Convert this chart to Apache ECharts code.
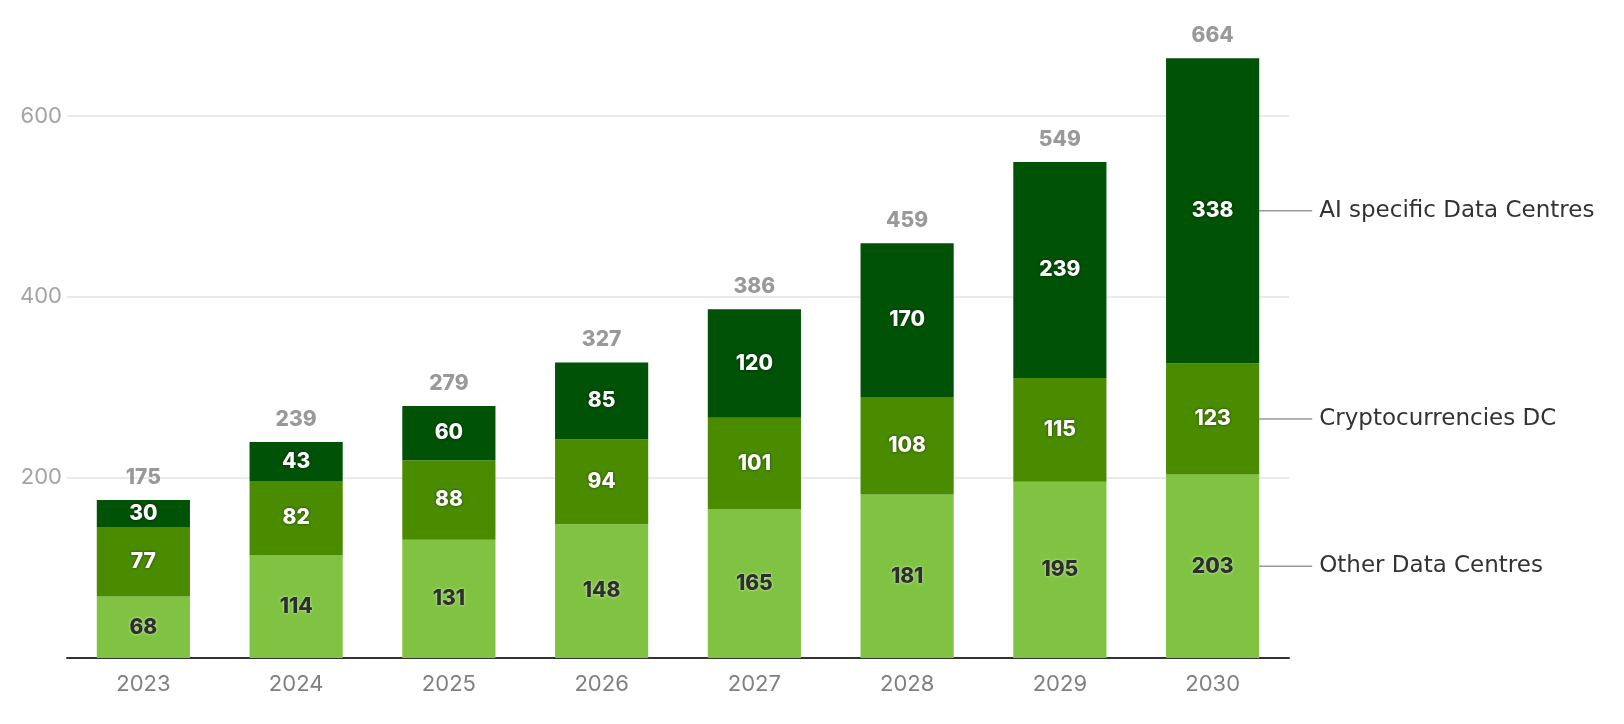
<!DOCTYPE html>
<html>
<head>
<meta charset="utf-8">
<script src="https://cdn.jsdelivr.net/npm/echarts@6/dist/echarts.min.js"></script>
<style>
html,body{margin:0;padding:0;background:#fff;}
#chart{width:1624px;height:724px;}
</style>
</head>
<body>
<div id="chart"></div>
<script>
const categories = ['2023','2024','2025','2026','2027','2028','2029','2030'];
const otherDC = [68,114,131,148,165,181,195,203];
const cryptoDC = [77,82,88,94,101,108,115,123];
const aiDC = [30,43,60,85,120,170,239,338];
const totals = [175,239,279,327,386,459,549,664];
const seriesNames = ['Other Data Centres','Cryptocurrencies DC','AI specific Data Centres'];
const colors = ['#80c342','#4a8b00','#005207'];

const FONT = 'Inter, "Open Sans", sans-serif';
const LEGEND_FONT = '"DejaVu Sans", Inter, sans-serif';
const last = categories.length - 1;
const endLabelData = [
  [last, otherDC[last] / 2],
  [last, otherDC[last] + cryptoDC[last] / 2],
  [last, otherDC[last] + cryptoDC[last] + aiDC[last] / 2]
];

function innerLabel(dark) {
  return {
    show: true,
    position: 'inside',
    fontFamily: FONT,
    fontSize: 21,
    fontWeight: 800,
    color: dark ? '#2e2e2e' : '#ffffff',
    textShadowColor: dark ? 'rgba(255,255,255,0.7)' : 'rgba(0,0,0,0.55)',
    textShadowBlur: 3
  };
}

const chart = echarts.init(document.getElementById('chart'));
chart.setOption({
  animation: false,
  backgroundColor: '#ffffff',
  grid: { left: 67, right: 335, top: 116, bottom: 66, containLabel: false },
  xAxis: {
    type: 'category',
    data: categories,
    axisLine: { lineStyle: { color: '#333333', width: 2 } },
    axisTick: { show: false },
    axisLabel: { color: '#808080', fontFamily: FONT, fontSize: 22, margin: 15 }
  },
  yAxis: {
    type: 'value',
    min: 0,
    max: 600,
    interval: 200,
    axisLine: { show: false },
    axisTick: { show: false },
    splitLine: { lineStyle: { color: '#e3e3e3', width: 1.5 } },
    axisLabel: {
      color: '#a3a3a3', fontFamily: FONT, fontSize: 22, margin: 5,
      formatter: v => (v === 0 ? '' : String(v))
    }
  },
  series: [
    {
      name: seriesNames[0], type: 'bar', stack: 'dc', barWidth: '61%', clip: false,
      itemStyle: { color: colors[0] }, label: innerLabel(true), data: otherDC
    },
    {
      name: seriesNames[1], type: 'bar', stack: 'dc', barWidth: '61%', clip: false,
      itemStyle: { color: colors[1] }, label: innerLabel(false), data: cryptoDC
    },
    {
      name: seriesNames[2], type: 'bar', stack: 'dc', barWidth: '61%', clip: false,
      itemStyle: { color: colors[2] }, label: innerLabel(false), data: aiDC
    },
    {
      name: 'Total', type: 'scatter', symbolSize: 0, clip: false, silent: true,
      data: totals.map((t, i) => [i, t]),
      label: {
        show: true, position: 'top', distance: 12,
        fontFamily: FONT, fontSize: 21, fontWeight: 800, color: '#7f7f7f',
        formatter: p => String(p.value[1])
      }
    },
    {
      name: 'End labels', type: 'custom', silent: true, clip: false,
      data: endLabelData,
      renderItem: function (params, api) {
        const c = api.coord([api.value(0), api.value(1)]);
        const bw = api.size([1, 0])[0] * 0.61;
        const x0 = c[0] + bw / 2;
        return {
          type: 'group',
          children: [
            { type: 'line', shape: { x1: x0, y1: c[1], x2: x0 + 53, y2: c[1] },
              style: { stroke: '#9a9a9a', lineWidth: 1.5 } },
            { type: 'text', x: x0 + 60, y: c[1],
              style: { text: seriesNames[params.dataIndex], fill: '#333333',
                       font: '23px ' + LEGEND_FONT, align: 'left', verticalAlign: 'middle' } }
          ]
        };
      }
    }
  ]
});
</script>
</body>
</html>
